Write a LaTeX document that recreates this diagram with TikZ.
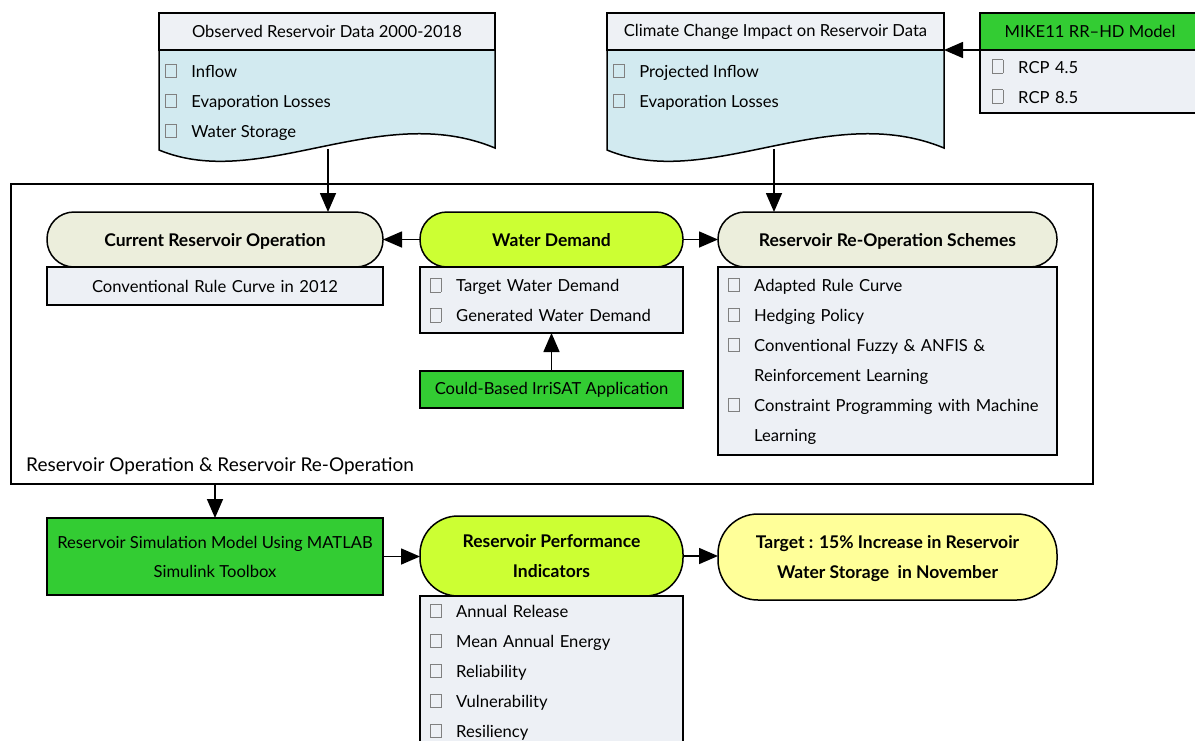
\documentclass[tikz,border=0pt]{standalone}
\usepackage{fontspec}
\setmainfont{Lato}
\usetikzlibrary{arrows.meta,positioning}
\definecolor{hdrgray}{HTML}{EEF1F5}
\definecolor{docblue}{HTML}{D2EAF0}
\definecolor{lstgray}{HTML}{EDF0F5}
\definecolor{opbeige}{HTML}{ECEEDC}
\definecolor{limegreen}{HTML}{CCFF33}
\definecolor{toolgreen}{HTML}{33CC33}
\definecolor{targetyellow}{HTML}{FFFF99}

% casilla de la lista
\newcommand{\cb}{{\color{gray}\setlength{\fboxsep}{0pt}\setlength{\fboxrule}{0.6pt}\fbox{\rule{0pt}{13pt}\hspace{10pt}}}\hspace{15pt}}

\tikzset{
  box/.style={draw, line width=1.5pt, inner sep=0pt, outer sep=0pt, font=\fontsize{16.6}{20}\selectfont},
  hdr/.style={box, fill=hdrgray, minimum height=37pt},
  pill/.style={box, rounded corners=27pt, minimum height=55pt, align=center, text depth=0pt, font=\fontsize{17.5}{30}\selectfont\bfseries},
  lst/.style={box, fill=lstgray, align=left, inner xsep=10pt, font=\fontsize{16.6}{30}\selectfont},
  items/.style={anchor=west, align=left, inner sep=0pt, font=\fontsize{16.6}{30}\selectfont},
  arr/.style={-{Triangle[length=19pt,width=16pt]}, line width=1.6pt},
}

\begin{document}
\begin{tikzpicture}[x=1pt,y=-1pt]
  \useasboundingbox (0,0) rectangle (1195,740);
  \clip (0,0) rectangle (1195,740);

  % Datos observados
  \draw[line width=1.5pt, fill=docblue] (159,50) -- (159,150)
    .. controls (260,192) and (380,100) .. (495,148) -- (495,50);
  \node[hdr, minimum width=336pt] (obsH) at (327,31.5) {Observed Reservoir Data 2000-2018};
  \node[items] (obsL) at (165,102) {\cb Inflow\\ \cb Evaporation Losses\\ \cb Water Storage};
  \coordinate (obsB) at (328,149);

  % Cambio climatico
  \draw[line width=1.5pt, fill=docblue] (607,50) -- (607,150)
    .. controls (708,192) and (828,100) .. (944,148) -- (944,50);
  \node[hdr, minimum width=337pt] (climH) at (775.5,31.5) {Climate Change Impact on Reservoir Data};
  \node[items] (climL) at (613,87) {\cb Projected Inflow\\ \cb Evaporation Losses};
  \coordinate (climB) at (774,149);

  % Modelo MIKE11
  \node[hdr, fill=toolgreen, minimum width=220pt, anchor=north west] (mikeH) at (980,13) {MIKE11 RR--HD Model};
  \node[lst, below=0pt of mikeH, text width=196pt, inner xsep=12pt, minimum height=63pt] (mikeL) {\cb RCP 4.5\\ \cb RCP 8.5};
  \draw[arr] (mikeH.south west) -- (climH.south east);

  % Marco de operacion
  \node[draw, line width=1.5pt, minimum width=1082pt, minimum height=300pt, anchor=north west] (frame) at (10,183) {};
  \node[anchor=west, inner sep=0pt, font=\fontsize{19}{22}\selectfont] (frameT) at (26,466) {Reservoir Operation \& Reservoir Re-Operation};

  \node[pill, fill=opbeige, minimum width=336pt, anchor=north west] (cur) at (47,212) {Current Reservoir Operation};
  \node[lst, below=0pt of cur, text width=336pt, inner xsep=0pt, align=center, minimum height=38pt] (curL) {Conventional Rule Curve in 2012};

  \node[pill, fill=limegreen, minimum width=263pt, anchor=north west] (wd) at (420,212) {Water Demand};
  \node[lst, below=0pt of wd, text width=243pt, minimum height=66pt] (wdL) {\cb Target Water Demand\\ \cb Generated Water Demand};
  \node[box, fill=toolgreen, minimum width=263pt, minimum height=37pt, below=38pt of wdL] (irri) {Could-Based IrriSAT Application};

  \node[pill, fill=opbeige, minimum width=339pt, anchor=north west] (reop) at (718,212) {Reservoir Re-Operation Schemes};
  \node[lst, below=0pt of reop, text width=319pt, minimum height=188pt] (reopL) {\cb Adapted Rule Curve\\ \cb Hedging Policy\\
    \cb Conventional Fuzzy \& ANFIS \&\\ \phantom{\cb}Reinforcement Learning\\
    \cb Constraint Programming with Machine\\ \phantom{\cb}Learning};

  \draw[arr] (obsB) -- (obsB |- cur.north);
  \draw[arr] (climB) -- (climB |- reop.north);
  \draw[arr] (wd) -- (cur);
  \draw[arr] (wd) -- (reop);
  \draw[arr] (irri) -- (wdL);

  % Simulacion y desempeno
  \node[box, fill=toolgreen, minimum width=336pt, minimum height=77pt, anchor=north west, align=center,
    font=\fontsize{16.6}{29}\selectfont] (sim) at (47,518) {Reservoir Simulation Model Using MATLAB\\Simulink Toolbox};
  \node[pill, fill=limegreen, minimum width=263pt, minimum height=80pt, rounded corners=38pt, anchor=north west] (perf) at (420,516) {Reservoir Performance\\Indicators};
  \node[lst, below=0pt of perf, text width=243pt, minimum height=152pt] (perfL) {\cb Annual Release\\ \cb Mean Annual Energy\\
    \cb Reliability\\ \cb Vulnerability\\ \cb Resiliency};
  \node[pill, fill=targetyellow, minimum width=339pt, minimum height=86pt, rounded corners=40pt, anchor=north west] (target) at (718,514) {Target : 15\% Increase in Reservoir\\Water Storage\ \ in November};

  \draw[arr] (sim.north |- frame.south) -- (sim.north);
  \draw[arr] (sim.east) -- (sim.east -| perf.west);
  \draw[arr] (perf.east) -- (perf.east -| target.west);
\end{tikzpicture}
\end{document}
